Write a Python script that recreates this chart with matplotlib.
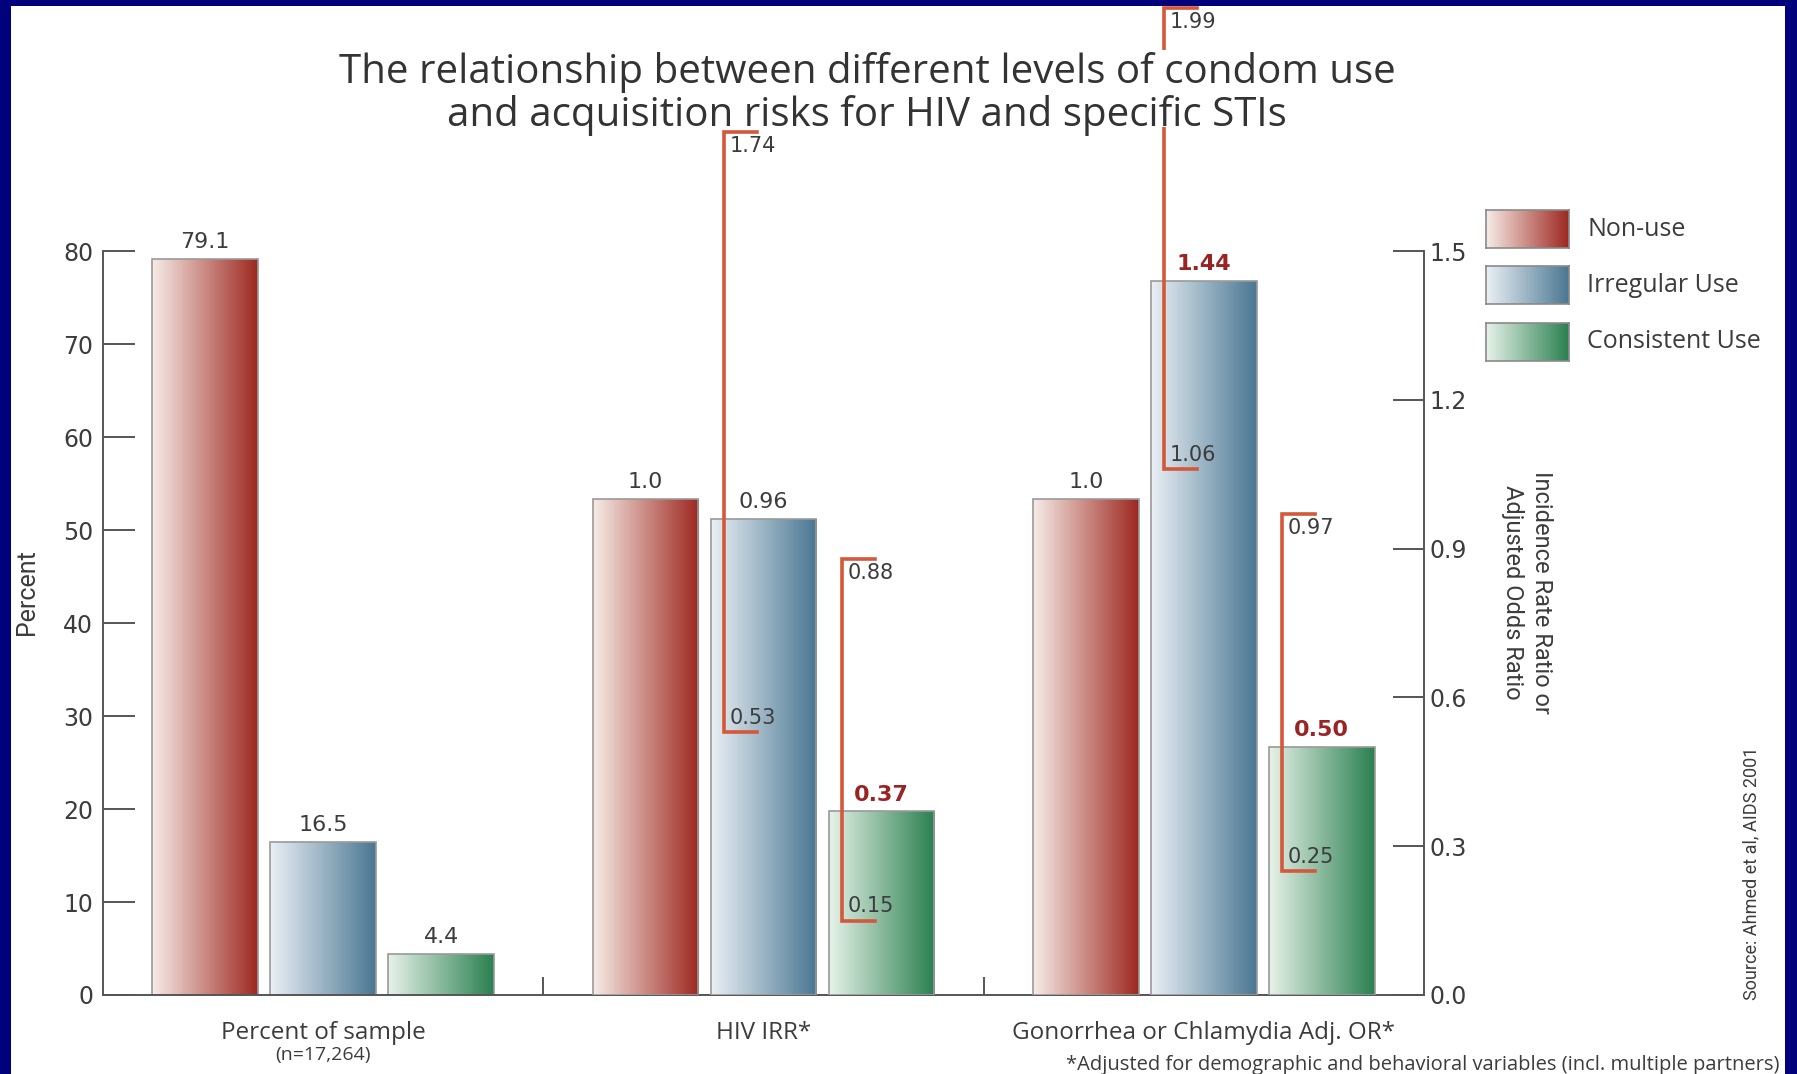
import numpy as np
import matplotlib.pyplot as plt
from matplotlib.patches import Rectangle
from matplotlib.colors import LinearSegmentedColormap

# data
groups = ['Percent of sample', 'HIV IRR*', 'Gonorrhea or Chlamydia Adj. OR*']
series = ['Non-use', 'Irregular Use', 'Consistent Use']
pct_sample = [79.1, 16.5, 4.4]
hiv_irr = [1.0, 0.96, 0.37]
gon_or = [1.0, 1.44, 0.50]
hiv_labels = ['1.0', '0.96', '0.37']
gon_labels = ['1.0', '1.44', '0.50']
# confidence limits for irregular / consistent use
hiv_ci_low = [0.53, 0.15]
hiv_ci_high = [1.74, 0.88]
gon_ci_low = [1.06, 0.25]
gon_ci_high = [1.99, 0.97]
pct_ticks = [0, 10, 20, 30, 40, 50, 60, 70, 80]
ratio_ticks = [0.0, 0.3, 0.6, 0.9, 1.2, 1.5]

grad_colors = [('#f7ece7', '#9d2820'), ('#ebf0f5', '#4a7792'), ('#e7f2e9', '#2a8050')]
bracket_col = '#d4583a'
bold_red = '#9a2424'
grey = '#3c3c3c'
narrow = ['Liberation Sans Narrow', 'Roboto']
W, H = 1797, 1074

fig = plt.figure(figsize=(W / 100, H / 100), dpi=100)
fig.patch.set_facecolor('#01017c')
fig.patches.append(Rectangle((11 / W, 0), (1785 - 11) / W, 1 - 6 / H, transform=fig.transFigure,
                             facecolor='white', edgecolor='none', zorder=-5))

ax = fig.add_axes([103 / W, 1 - 995 / H, (1424 - 103) / W, 995 / H])
ax2 = ax.twinx()
for a in (ax, ax2):
    a.set_facecolor('none')

rtop = 1.99 * 995 / (995 - 8)
ax2.set_ylim(0, rtop)
ax.set_ylim(0, rtop * 80 / 1.5)
ax.set_xlim(-0.5, 2.5)

width = 0.24
step = 0.268
x = np.arange(3)


def gradient_bars(axis, bars, i):
    cmap = LinearSegmentedColormap.from_list('g%d' % i, grad_colors[i])
    for b in bars:
        x0, y0 = b.get_x(), b.get_y()
        img = axis.imshow(np.linspace(0, 1, 256).reshape(1, -1), cmap=cmap, aspect='auto',
                          extent=[x0, x0 + b.get_width(), y0, y0 + b.get_height()],
                          zorder=1.5, interpolation='bilinear')
        img.set_clip_path(b)


for i in range(3):
    off = (i - 1) * step
    b1 = ax.bar(x[0] + off, pct_sample[i], width, facecolor='none', edgecolor='#9a9a9a', lw=1.2, zorder=2)
    b2 = ax2.bar(x[1:] + off, [hiv_irr[i], gon_or[i]], width, facecolor='none', edgecolor='#9a9a9a',
                 lw=1.2, zorder=2)
    gradient_bars(ax, b1, i)
    gradient_bars(ax2, b2, i)
    ax.bar_label(b1, fmt='%.1f', padding=5, fontsize=16, color=grey, family='DejaVu Sans')
    t = ax2.bar_label(b2, labels=[hiv_labels[i], gon_labels[i]], padding=5, fontsize=16,
                      color=grey, family='DejaVu Sans')
    for lbl in t:
        if lbl.get_text() in ('0.37', '1.44', '0.50'):
            lbl.set_color(bold_red)
            lbl.set_fontweight('bold')

# confidence brackets; the tallest one runs up behind the title
cap = 0.075
for g, lo_list, hi_list in ((1, hiv_ci_low, hiv_ci_high), (2, gon_ci_low, gon_ci_high)):
    for k in range(2):
        xl = g + k * step - width / 2 + 0.03
        lo, hi = lo_list[k], hi_list[k]
        z = 3 if hi > 1.9 else 4
        ax2.plot([xl + cap, xl, xl, xl + cap], [hi, hi, lo, lo], color=bracket_col, lw=2.6,
                 clip_on=False, zorder=z, solid_joinstyle='miter')
        ax2.annotate('%.2f' % hi, (xl, hi), xytext=(4, -3), textcoords='offset points',
                     va='top', ha='left', fontsize=15, color=grey, family='DejaVu Sans',
                     annotation_clip=False, zorder=5)
        ax2.annotate('%.2f' % lo, (xl, lo), xytext=(4, 3), textcoords='offset points',
                     va='bottom', ha='left', fontsize=15, color=grey, family='DejaVu Sans',
                     annotation_clip=False, zorder=5)

# white block behind the title
ax2.add_patch(Rectangle((330 / W, 1 - 127 / H), 1080 / W, 77 / H, transform=fig.transFigure,
                        facecolor='white', edgecolor='none', zorder=3.5, clip_on=False))

# axes styling
for s in ('top', 'right'):
    ax.spines[s].set_visible(False)
for s in ('top', 'left', 'bottom'):
    ax2.spines[s].set_visible(False)
ax.spines['left'].set_bounds(0, 80)
ax2.spines['right'].set_bounds(0, 1.5)
for s in (ax.spines['left'], ax.spines['bottom'], ax2.spines['right']):
    s.set_color('#555555')
    s.set_linewidth(1.4)

ax.set_yticks(pct_ticks)
ax.tick_params(axis='y', direction='in', length=23, width=1.4, color='#555555',
               labelsize=17, labelcolor=grey, pad=7)
ax2.set_yticks(ratio_ticks)
ax2.set_yticklabels(['%.1f' % v for v in ratio_ticks])
ax2.tick_params(axis='y', direction='in', length=22, width=1.4, color='#555555',
                labelsize=17, labelcolor=grey, pad=4)
for lbl in ax.get_yticklabels() + ax2.get_yticklabels():
    lbl.set_family('DejaVu Sans')

ax.set_xticks([0.5, 1.5])
ax.set_xticklabels([])
ax.tick_params(axis='x', which='major', direction='in', length=13, width=1.4, color='#555555')
ax.set_xticks(x, minor=True)
ax.set_xticklabels(groups, minor=True)
ax.tick_params(axis='x', which='minor', length=0, pad=19, labelsize=17.5, labelcolor=grey)
for lbl in ax.get_xticklabels(minor=True):
    lbl.set_family('Open Sans')
ax.text(0, -0.0605, '(n=17,264)', transform=ax.get_xaxis_transform(), ha='center', va='center',
        fontsize=14, color=grey, family='Open Sans')

ax.text(-76 / 1321, 0.405, 'Percent', transform=ax.transAxes, rotation=90, ha='center',
        va='center', fontsize=18, color=grey, family=narrow)
ax.text(1.078, 0.405, 'Incidence Rate Ratio or\nAdjusted Odds Ratio', transform=ax.transAxes,
        rotation=270, ha='center', va='center', fontsize=17, color=grey, family=narrow,
        linespacing=1.3)

fig.text(867 / W, 1 - 94 / H,
         'The relationship between different levels of condom use\nand acquisition risks for HIV and specific STIs',
         ha='center', va='center', fontsize=29, color='#333333', family='Open Sans', linespacing=1.08,
         zorder=10)

# legend swatches
for i, name in enumerate(series):
    top = [210, 266, 323][i]
    sw = fig.add_axes([1486 / W, 1 - (top + 38) / H, 83 / W, 38 / H])
    sw.imshow(np.linspace(0, 1, 256).reshape(1, -1), aspect='auto',
              cmap=LinearSegmentedColormap.from_list('s%d' % i, grad_colors[i]))
    sw.set_xticks([])
    sw.set_yticks([])
    for s in sw.spines.values():
        s.set_color('#8a8a8a')
        s.set_linewidth(1.2)
    fig.text(1587 / W, 1 - (top + 19) / H, name, ha='left', va='center', fontsize=18,
             color=grey, family='Open Sans')

fig.text(1751 / W, 1 - 873 / H, 'Source: Ahmed et al, AIDS 2001', rotation=90, ha='center',
         va='center', fontsize=13, color=grey, family=narrow)
fig.text(1779 / W, 1 - 1065 / H,
         '*Adjusted for demographic and behavioral variables (incl. multiple partners)',
         ha='right', va='center', fontsize=14.5, color=grey, family='Open Sans')

fig.savefig('out.png', dpi=100, facecolor=fig.get_facecolor())
